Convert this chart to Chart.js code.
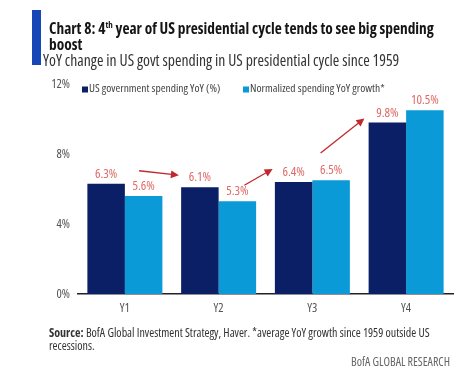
<!DOCTYPE html>
<html>
<head>
<meta charset="utf-8">
<script src="https://cdn.jsdelivr.net/npm/chart.js@4"></script>
<style>
  html, body { margin: 0; padding: 0; background: #fff; }
  #wrap { position: relative; width: 475px; height: 374px; overflow: hidden; font-family: "Open Sans", sans-serif; font-stretch: condensed; }
  #accent { position: absolute; left: 32px; top: 10px; width: 9px; height: 55px; background: #1747b6; }
  #title { position: absolute; left: 49px; top: 21px; width: 385px; font-weight: bold; font-size: 15.4px; line-height: 16px; color: #151515; }
  #title sup { font-size: 9px; line-height: 0; }
  #subtitle { position: absolute; left: 43px; top: 52px; font-size: 15.7px; line-height: 16px; color: #333; white-space: nowrap; }
  #source { position: absolute; left: 49px; top: 326px; width: 400px; font-size: 12px; line-height: 13px; color: #333; }
  #brand { position: absolute; right: 25px; top: 355px; font-size: 12px; line-height: 14px; color: #666; }
  canvas { position: absolute; left: 0; top: 0; }
</style>
</head>
<body>
<div id="wrap">
  <canvas id="chart" width="475" height="374"></canvas>
  <div id="accent"></div>
  <div id="title">Chart 8: 4<sup>th</sup> year of US presidential cycle tends to see big spending boost</div>
  <div id="subtitle">YoY change in US govt spending in US presidential cycle since 1959</div>
  <div id="source"><b>Source:</b> BofA Global Investment Strategy, Haver. *average YoY growth since 1959 outside US recessions.</div>
  <div id="brand">BofA GLOBAL RESEARCH</div>
</div>
<script>
// =====================
// DATA
// =====================
const years = ["Y1", "Y2", "Y3", "Y4"];
const govSpending = [6.3, 6.1, 6.4, 9.8];
const normSpending = [5.6, 5.3, 6.5, 10.5];
const yTicks = [0, 4, 8, 12];
const seriesNames = ["US government spending YoY (%)", "Normalized spending YoY growth*"];

const NAVY = "#0b1f66";
const SKY = "#0a9ad8";
const LABEL_RED = "#de6b66";
const ARROW_RED = "#c1272d";
const FONT = "'Open Sans', sans-serif";

// =====================
// PLUGINS
// =====================
// keep canvas text condensed like the html text
const condensed = {
  id: "condensed",
  beforeDraw(chart) { chart.ctx.fontStretch = "condensed"; }
};

// value labels above each bar
const valueLabels = {
  id: "valueLabels",
  afterDatasetsDraw(chart) {
    const ctx = chart.ctx;
    ctx.save();
    ctx.font = "13px " + FONT;
    ctx.fontStretch = "condensed";
    ctx.fillStyle = LABEL_RED;
    ctx.textAlign = "center";
    ctx.textBaseline = "bottom";
    chart.data.datasets.forEach((ds, di) => {
      chart.getDatasetMeta(di).data.forEach((bar, i) => {
        ctx.fillText(ds.data[i].toFixed(1) + "%", bar.x, bar.y - 3);
      });
    });
    ctx.restore();
  }
};

// red arrows between the years (anchored to bars)
const arrows = {
  id: "arrows",
  afterDatasetsDraw(chart) {
    const ctx = chart.ctx;
    const gov = chart.getDatasetMeta(0).data;
    const norm = chart.getDatasetMeta(1).data;
    const segs = [
      [gov[0].x + 33, gov[0].y - 13, gov[1].x - 21, gov[1].y - 12],
      [norm[1].x + 7, norm[1].y - 16, gov[2].x - 21, gov[2].y - 13],
      [gov[2].x + 27, gov[2].y - 29, gov[3].x - 23, gov[3].y - 4]
    ];
    ctx.save();
    ctx.strokeStyle = ARROW_RED;
    ctx.fillStyle = ARROW_RED;
    ctx.lineWidth = 1.3;
    segs.forEach(([x1, y1, x2, y2]) => {
      const a = Math.atan2(y2 - y1, x2 - x1);
      ctx.beginPath();
      ctx.moveTo(x1, y1);
      ctx.lineTo(x2 - 5 * Math.cos(a), y2 - 5 * Math.sin(a));
      ctx.stroke();
      ctx.beginPath();
      ctx.moveTo(x2, y2);
      ctx.lineTo(x2 - 8 * Math.cos(a) + 4 * Math.sin(a), y2 - 8 * Math.sin(a) - 4 * Math.cos(a));
      ctx.lineTo(x2 - 8 * Math.cos(a) - 4 * Math.sin(a), y2 - 8 * Math.sin(a) + 4 * Math.cos(a));
      ctx.closePath();
      ctx.fill();
    });
    ctx.restore();
  }
};

// legend drawn inside the plot area
const innerLegend = {
  id: "innerLegend",
  afterDraw(chart) {
    const ctx = chart.ctx;
    const area = chart.chartArea;
    const starts = [area.left + 4, area.left + 165];
    ctx.save();
    ctx.font = "11.5px " + FONT;
    ctx.fontStretch = "condensed";
    ctx.textBaseline = "middle";
    chart.data.datasets.forEach((ds, i) => {
      const x = starts[i], y = area.top + 5;
      ctx.fillStyle = ds.backgroundColor;
      ctx.fillRect(x, y - 2.5, 6, 6);
      ctx.fillStyle = "#444";
      ctx.fillText(ds.label, x + 7, y);
    });
    ctx.restore();
  }
};

// =====================
// CHART
// =====================
new Chart(document.getElementById("chart"), {
  type: "bar",
  data: {
    labels: years,
    datasets: [
      { label: seriesNames[0], data: govSpending, backgroundColor: NAVY },
      { label: seriesNames[1], data: normSpending, backgroundColor: SKY }
    ]
  },
  options: {
    responsive: false,
    animation: false,
    layout: { padding: { left: 0, right: 22, top: 84, bottom: 60 } },
    datasets: { bar: { categoryPercentage: 0.8, barPercentage: 1.0 } },
    plugins: { legend: { display: false }, tooltip: { enabled: false } },
    scales: {
      x: {
        grid: { display: false, drawTicks: false },
        border: { display: true, color: "#222", width: 1.5 },
        ticks: { color: "#555", padding: 7, font: { family: FONT, size: 12.5 } },
        afterFit: s => { s.height = 20; }
      },
      y: {
        min: 0,
        max: 12,
        afterBuildTicks: s => { s.ticks = yTicks.map(v => ({ value: v })); },
        grid: { display: false, drawTicks: false },
        border: { display: false },
        ticks: { color: "#555", padding: 8, callback: v => v + "%", font: { family: FONT, size: 12.5 } },
        afterFit: s => { s.width = 78; }
      }
    }
  },
  plugins: [condensed, valueLabels, arrows, innerLegend]
});
</script>
</body>
</html>
